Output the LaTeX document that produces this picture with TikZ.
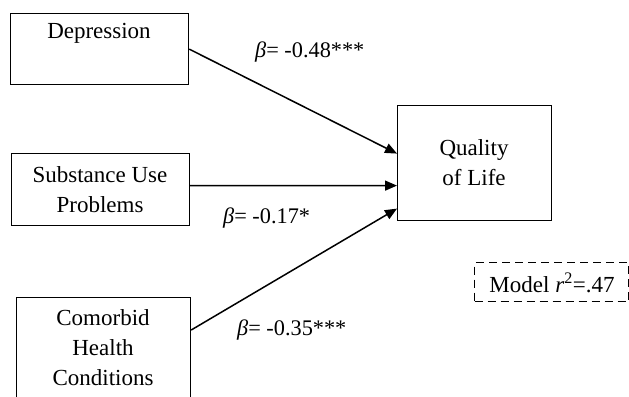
\documentclass[tikz,border=0pt]{standalone}
\usepackage{fontspec}
\setmainfont{Liberation Serif}
\usetikzlibrary{arrows.meta}
\begin{document}
\begin{tikzpicture}[x=1bp,y=-1bp,
  box/.style={draw, line width=1.2bp, rectangle, inner sep=0pt, anchor=north west},
  txt/.style={font=\fontsize{23bp}{30bp}\selectfont, align=center, inner sep=0pt},
  lbl/.style={font=\fontsize{22.3bp}{26bp}\selectfont, inner sep=0pt, anchor=west},
  arr/.style={line width=1.5bp, -{Triangle[length=12bp,width=10bp]}},
  dashbox/.style={draw, line width=1.1bp, dash pattern=on 8bp off 5bp, rectangle, inner sep=0pt, anchor=north west}]
\useasboundingbox (0,0) rectangle (629,396);
% boxes
\node[box, minimum width=178bp, minimum height=71bp] (dep) at (10,13) {};
\node[box, minimum width=178bp, minimum height=72bp] (sub) at (11,153) {};
\node[box, minimum width=174bp, minimum height=110bp] (com) at (16,297) {};
\node[box, minimum width=154bp, minimum height=115bp] (qol) at (397,105) {};
\node[dashbox, minimum width=154bp, minimum height=39bp] (mod) at (474,262) {};
% texts
\node[txt] (deptxt) at (99,33) {Depression};
\node[txt] (subtxt) at (100,190) {Substance Use\\Problems};
\node[txt] (comtxt) at (103,348) {Comorbid\\Health\\Conditions};
\node[txt] (qoltxt) at (474,163) {Quality\\of Life};
\node[txt] (modtxt) at (552,283) {Model \textit{r}\textsuperscript{2}=.47};
% connectors
\draw[arr] (dep.east) -- ([yshift=9.5bp]qol.west);
\draw[arr] ([yshift=4bp]sub.east) -- ([yshift=-22.5bp]qol.west);
\draw[arr] (com.east |- 0,330) -- ([yshift=-45.5bp]qol.west);
% labels
\node[lbl] (l1) at (255,52) {\textit{β}= -0.48***};
\node[lbl] (l2) at (223,218) {\textit{β}= -0.17*};
\node[lbl] (l3) at (237,330) {\textit{β}= -0.35***};
\end{tikzpicture}
\end{document}
